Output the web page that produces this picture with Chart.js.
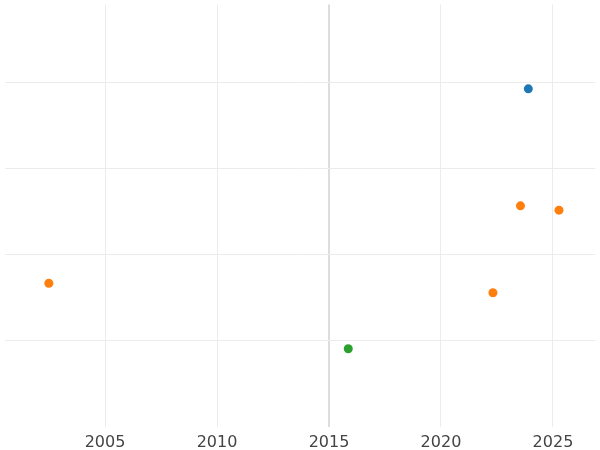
<!DOCTYPE html>
<html>
<head>
<script src="https://cdn.jsdelivr.net/npm/chart.js@4"></script>
<style>body{margin:0;background:#fff}#wrap{width:600px;height:450px}</style>
</head>
<body>
<div id="wrap"><canvas id="grafico"></canvas></div>
<script>
var xTicks = [2005, 2010, 2015, 2020, 2025];
var blueX = [2023.9], blueY = [3.93];
var orangeX = [2023.55, 2025.27, 2002.49, 2022.32], orangeY = [2.57, 2.52, 1.67, 1.56];
var greenX = [2015.86], greenY = [0.91];

function pts(xs, ys){ return xs.map(function(x, i){ return {x: x, y: ys[i]}; }); }

new Chart(document.getElementById('grafico'), {
    type: 'scatter',
    data: {
        datasets: [
            {data: pts(blueX, blueY), backgroundColor: '#1f77b4', borderColor: '#1f77b4'},
            {data: pts(orangeX, orangeY), backgroundColor: '#ff7f0e', borderColor: '#ff7f0e'},
            {data: pts(greenX, greenY), backgroundColor: '#2ca02c', borderColor: '#2ca02c'}
        ]
    },
    options: {
        responsive: true, maintainAspectRatio: false, animation: false,
        layout: {padding: {left: -5, right: -5, top: -5, bottom: 0}},
        elements: {point: {radius: 4.5, borderWidth: 0}},
        plugins: {legend: {display: false}, tooltip: {enabled: false}},
        scales: {
            x: {
                type: 'linear', min: 2000.51, max: 2026.9,
                afterBuildTicks: function(s){ s.ticks = xTicks.map(function(v){ return {value: v}; }); },
                afterFit: function(s){ s.height = 23; },
                border: {display: false},
                grid: {
                    drawTicks: false,
                    color: function(c){ return c.tick && c.tick.value === 2015 ? '#dddddd' : '#ececec'; },
                    lineWidth: function(c){ return c.tick && c.tick.value === 2015 ? 2 : 1; }
                },
                ticks: {padding: 6, color: '#444', font: {size: 16, family: 'DejaVu Sans'},
                    callback: function(v){ return String(v); }}
            },
            y: {
                min: 0, max: 4.91,
                afterFit: function(s){ s.width = 0; },
                afterBuildTicks: function(s){ s.ticks = [1,2,3,4].map(function(v){ return {value: v}; }); },
                border: {display: false},
                grid: {drawTicks: false, color: '#ececec'},
                ticks: {display: false}
            }
        }
    }
});
</script>
</body>
</html>
